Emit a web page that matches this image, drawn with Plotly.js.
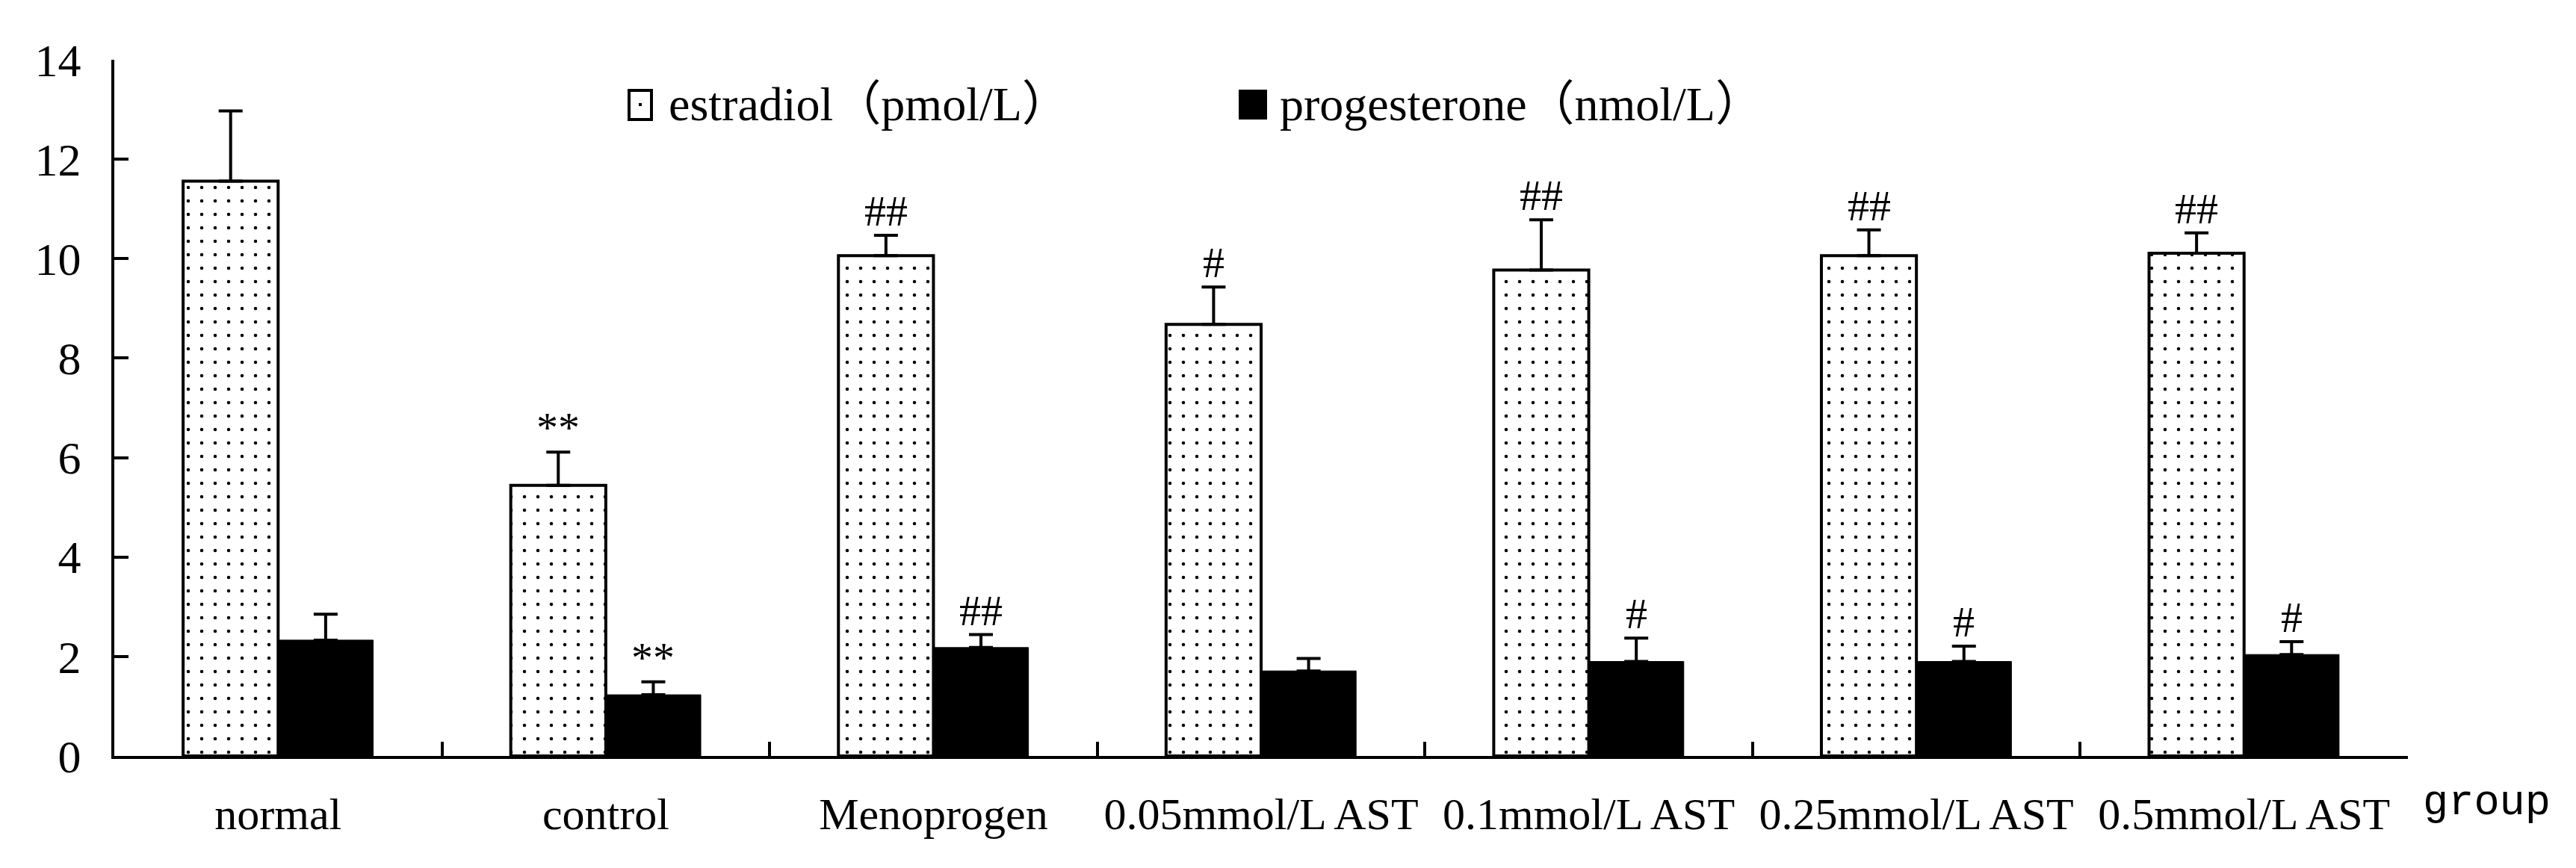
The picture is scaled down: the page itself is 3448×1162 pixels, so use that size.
<!DOCTYPE html>
<html>
<head>
<meta charset="utf-8">
<script src="https://cdn.plot.ly/plotly-3.0.1.min.js"></script>
<style>
  html, body { margin: 0; padding: 0; background: #fff; }
  #chart { width: 3448px; height: 1162px; }
</style>
</head>
<body>
<div id="chart"></div>
<script>
var groups = ["normal", "control", "Menoprogen", "0.05mmol/L AST", "0.1mmol/L AST", "0.25mmol/L AST", "0.5mmol/L AST"];
var estradiol = [11.56, 5.44, 10.06, 8.68, 9.77, 10.06, 10.11];
var estradiolErr = [1.41, 0.67, 0.41, 0.75, 1.01, 0.52, 0.41];
var progesterone = [2.33, 1.23, 2.18, 1.71, 1.90, 1.90, 2.04];
var progesteroneErr = [0.52, 0.26, 0.26, 0.25, 0.47, 0.31, 0.26];
var estradiolMarks = ["", "**", "##", "#", "##", "##", "##"];
var progesteroneMarks = ["", "**", "##", "", "#", "#", "#"];
var seriesNames = ["estradiol（pmol/L）", "progesterone（nmol/L）"];

var serif = "Liberation Serif, Times New Roman, Noto Sans CJK SC, serif";
var W = 3448, H = 1162;
var M = { t: 80, r: 225, b: 150, l: 153 };
var bargap = 0.42;
var half = (1 - bargap) / 4;

// pixel -> paper helpers for the hand-made legend
function px(x) { return (x - M.l) / (W - M.l - M.r); }
function py(y) { return (H - M.b - y) / (H - M.t - M.b); }

var errStyle = { type: "data", symmetric: false, thickness: 4, width: 16, color: "black" };

var data = [
  {
    type: "bar",
    name: seriesNames[0],
    x: groups,
    y: estradiol,
    error_y: Object.assign({ array: estradiolErr, arrayminus: estradiol.map(function () { return 0; }) }, errStyle),
    marker: {
      color: "white",
      line: { color: "black", width: 4 },
      pattern: { shape: ".", size: 18, solidity: 0.05, fgcolor: "black", bgcolor: "white" }
    }
  },
  {
    type: "bar",
    name: seriesNames[1],
    x: groups,
    y: progesterone,
    error_y: Object.assign({ array: progesteroneErr, arrayminus: progesterone.map(function () { return 0; }) }, errStyle),
    marker: { color: "black", line: { color: "black", width: 1 } }
  }
];

// significance marks sit just above each error bar
var annotations = [];
var markFont = { family: serif, size: 58, color: "black" };
groups.forEach(function (g, i) {
  if (estradiolMarks[i]) {
    annotations.push({
      x: i - half, y: estradiol[i] + estradiolErr[i], xref: "x", yref: "y",
      text: estradiolMarks[i], showarrow: false, yanchor: "bottom", yshift: -2, font: markFont
    });
  }
  if (progesteroneMarks[i]) {
    annotations.push({
      x: i + half, y: progesterone[i] + progesteroneErr[i], xref: "x", yref: "y",
      text: progesteroneMarks[i], showarrow: false, yanchor: "bottom", yshift: -2, font: markFont
    });
  }
});

annotations.push({
  text: "group", xref: "paper", yref: "paper", x: 1, y: 0,
  xanchor: "left", yanchor: "middle", xshift: 18, yshift: -63, showarrow: false,
  font: { family: "Liberation Mono, Courier New, monospace", size: 57, color: "black" }
});

// legend: swatch boxes + labels
var legendFont = { family: serif, size: 64, color: "black" };
annotations.push({
  text: seriesNames[0], xref: "paper", yref: "paper", x: px(893), y: py(140),
  xanchor: "left", yanchor: "middle", showarrow: false, font: legendFont
});
annotations.push({
  text: seriesNames[1], xref: "paper", yref: "paper", x: px(1711), y: py(140),
  xanchor: "left", yanchor: "middle", showarrow: false, font: legendFont
});
var shapes = [
  { type: "rect", xref: "paper", yref: "paper", x0: px(842), x1: px(872), y0: py(160), y1: py(121),
    fillcolor: "white", line: { color: "black", width: 4 } },
  { type: "rect", xref: "paper", yref: "paper", x0: px(855), x1: px(859), y0: py(142), y1: py(138),
    fillcolor: "black", line: { width: 0 } },
  { type: "rect", xref: "paper", yref: "paper", x0: px(1658), x1: px(1696), y0: py(160), y1: py(120),
    fillcolor: "black", line: { width: 0 } }
];

var layout = {
  width: W, height: H,
  margin: M,
  paper_bgcolor: "white", plot_bgcolor: "white",
  barmode: "group", bargap: bargap, bargroupgap: 0,
  showlegend: false,
  xaxis: {
    type: "category",
    showline: true, linecolor: "black", linewidth: 4,
    ticks: "inside", tickson: "boundaries", ticklen: 19, tickwidth: 4, tickcolor: "black",
    showgrid: false, zeroline: false,
    ticklabelstandoff: 22,
    tickfont: { family: serif, size: 60, color: "black" }
  },
  yaxis: {
    range: [0, 14], dtick: 2,
    showline: true, linecolor: "black", linewidth: 4,
    ticks: "inside", ticklen: 19, tickwidth: 4, tickcolor: "black",
    showgrid: false, zeroline: false,
    ticklabelstandoff: 28,
    tickfont: { family: serif, size: 62, color: "black" }
  },
  annotations: annotations,
  shapes: shapes
};

Plotly.newPlot("chart", data, layout, { displayModeBar: false, responsive: false, staticPlot: true });
</script>
</body>
</html>
